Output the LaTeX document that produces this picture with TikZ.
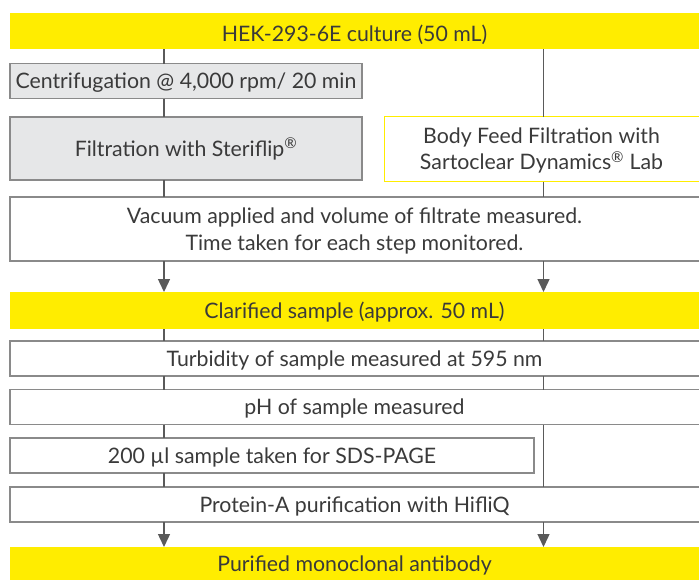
\documentclass[tikz,border=0pt]{standalone}
\usepackage{fontspec}
\setmainfont{Lato}
\usetikzlibrary{arrows.meta}
\definecolor{syellow}{HTML}{FFED00}
\definecolor{boxgray}{HTML}{E6E7E8}
\definecolor{edgegray}{HTML}{8A8A8A}
\definecolor{linegray}{HTML}{5A5A5A}
\definecolor{txt}{HTML}{3A3A3A}
\begin{document}
\begin{tikzpicture}[x=1pt,y=-1pt,
  every node/.style={inner sep=0pt,outer sep=0pt,anchor=north west,text=txt,
    font=\fontsize{21.3}{27}\selectfont,align=center,text height=15.3pt,text depth=0pt},
  ybar/.style={fill=syellow,draw=none,rectangle},
  gbox/.style={fill=boxgray,draw=edgegray,line width=1.4pt,rectangle},
  wbox/.style={fill=white,draw=edgegray,line width=1.4pt,rectangle},
  yedge/.style={fill=white,draw=syellow,line width=1.4pt,rectangle},
  conn/.style={draw=linegray,line width=1.4pt},
  arr/.style={conn,-{Triangle[length=13pt,width=12pt]}}]
\clip (0,0) rectangle (699,579);
\fill[white] (0,0) rectangle (699,579);
\coordinate (L) at (164,0);
\coordinate (R) at (543.5,0);
% nodes
\node[ybar,minimum width=695pt,minimum height=36pt] (top) at (10,13) {\hspace*{-6pt}\raisebox{-2.4pt}{HEK-293-6E culture (50 mL)}};
\node[gbox,minimum width=352pt,minimum height=35pt] (cent) at (10,63.5) {Centrifugation @ 4,000 rpm/ 20 min};
\node[gbox,minimum width=352pt,minimum height=63pt] (steri) at (10,117) {Filtration with Steriflip\textsuperscript{®}};
\node[yedge,minimum width=320pt,minimum height=65pt,text height=41.3pt] (body) at (384.5,116.5) {\hspace*{-6pt}Body Feed Filtration with\\[-1pt] \hspace*{-6pt}Sartoclear Dynamics\textsuperscript{®} Lab};
\node[wbox,minimum width=700pt,minimum height=64pt,text height=42.3pt] (vac) at (10,197) {\hspace*{-11pt}Vacuum applied and volume of filtrate measured.\\ \hspace*{-11pt}Time taken for each step monitored.};
\node[ybar,minimum width=695pt,minimum height=37pt] (clar) at (10,292) {\hspace*{-6pt}Clarified sample (approx. 50 mL)};
\node[wbox,minimum width=700pt,minimum height=35pt] (turb) at (10,341) {\hspace*{-11pt}Turbidity of sample measured at 595 nm};
\node[wbox,minimum width=700pt,minimum height=35pt] (ph) at (10,389.5) {\hspace*{-11pt}pH of sample measured};
\node[wbox,minimum width=524pt,minimum height=35pt] (sds) at (10,438) {200 µl sample taken for SDS-PAGE};
\node[wbox,minimum width=700pt,minimum height=35pt] (prot) at (10,487) {\hspace*{-11pt}Protein-A purification with HifliQ};
\node[ybar,minimum width=695pt,minimum height=33pt] (pur) at (10,547) {\hspace*{-6pt}Purified monoclonal antibody};
% left column connectors
\draw[conn] (top.south -| L) -- (cent.north -| L);
\draw[conn] (cent.south -| L) -- (steri.north -| L);
\draw[conn] (steri.south -| L) -- (vac.north -| L);
\draw[arr] (vac.south -| L) -- (clar.north -| L);
\draw[conn] (clar.south -| L) -- (turb.north -| L);
\draw[conn] (turb.south -| L) -- (ph.north -| L);
\draw[conn] (ph.south -| L) -- (sds.north -| L);
\draw[conn] (sds.south -| L) -- (prot.north -| L);
\draw[arr] (prot.south -| L) -- (pur.north -| L);
% right column connectors
\draw[conn] (top.south -| R) -- (body.north -| R);
\draw[conn] (body.south -| R) -- (vac.north -| R);
\draw[arr] (vac.south -| R) -- (clar.north -| R);
\draw[conn] (clar.south -| R) -- (turb.north -| R);
\draw[conn] (turb.south -| R) -- (ph.north -| R);
\draw[conn] (ph.south -| R) -- (prot.north -| R);
\draw[arr] (prot.south -| R) -- (pur.north -| R);
\end{tikzpicture}
\end{document}
